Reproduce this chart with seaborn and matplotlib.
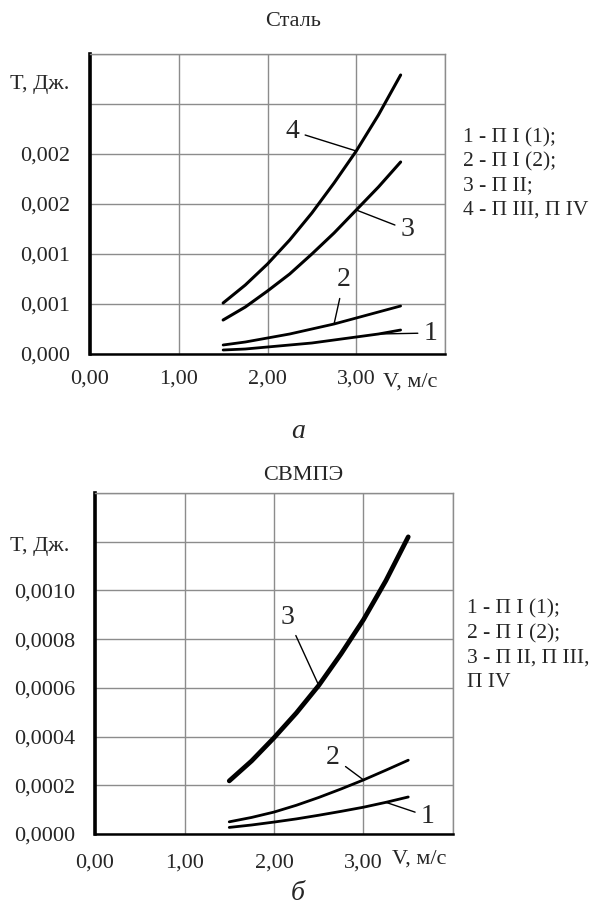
import numpy as np
import pandas as pd
import seaborn as sns
import matplotlib
matplotlib.use("Agg")
import matplotlib.pyplot as plt

# speed, m/s (every 0.25)
v = [1.5, 1.75, 2.0, 2.25, 2.5, 2.75, 3.0, 3.25, 3.5]

# Сталь
steel_1 = [0.00004, 0.00005, 0.00007, 0.00009, 0.00011, 0.00014, 0.00017, 0.00020, 0.00024]
steel_2 = [0.00009, 0.00012, 0.00016, 0.00020, 0.00025, 0.00030, 0.00036, 0.00042, 0.00048]
steel_3 = [0.00034, 0.00047, 0.00063, 0.00080, 0.00100, 0.00121, 0.00144, 0.00167, 0.00192]
steel_4 = [0.00051, 0.00069, 0.00090, 0.00114, 0.00141, 0.00171, 0.00203, 0.00239, 0.00279]

# СВМПЭ
pe_1 = [0.000027, 0.000037, 0.000049, 0.000062, 0.000077, 0.000093, 0.000110, 0.000130, 0.000152]
pe_2 = [0.000050, 0.000068, 0.000090, 0.000118, 0.000150, 0.000185, 0.000222, 0.000262, 0.000303]
pe_3 = [0.000218, 0.000300, 0.000395, 0.000497, 0.000610, 0.000740, 0.000880, 0.001040, 0.001220]

x_ticks = [0, 1, 2, 3, 4]
x_labels = ["0,00", "1,00", "2,00", "3,00", ""]

steel_yticks = [0, 0.0005, 0.001, 0.0015, 0.002, 0.0025, 0.003]
steel_ylabels = ["0,000", "0,001", "0,001", "0,002", "0,002", "", ""]
pe_yticks = [0, 0.0002, 0.0004, 0.0006, 0.0008, 0.0010, 0.0012, 0.0014]
pe_ylabels = ["0,0000", "0,0002", "0,0004", "0,0006", "0,0008", "0,0010", "", ""]

steel_legend = ["1 - П I (1);", "2 - П I (2);", "3 - П II;", "4 - П III, П IV"]
pe_legend = ["1 - П I (1);", "2 - П I (2);", "3 - П II, П III,", "П IV"]

sns.set_style("white")
plt.rcParams["font.family"] = ["Liberation Serif", "DejaVu Serif"]

W, H = 596, 917
fig = plt.figure(figsize=(W / 100, H / 100), dpi=100)


def px(x, y):
    return x / W, 1 - y / H


def setup(ax, yticks, ylabels, xpad):
    ax.set_xlim(0, 4)
    ax.set_ylim(yticks[0], yticks[-1])
    ax.set_xticks(x_ticks)
    ax.set_xticklabels(x_labels)
    ax.set_yticks(yticks)
    ax.set_yticklabels(ylabels)
    ax.tick_params(axis="both", length=0, labelsize=16)
    ax.tick_params(axis="y", pad=14)
    ax.tick_params(axis="x", pad=xpad)
    ax.grid(True, color="#8c8c8c", lw=1)
    ax.set_axisbelow(True)
    for s in ["top", "right"]:
        ax.spines[s].set_color("#8c8c8c")
        ax.spines[s].set_linewidth(1)
    ax.spines["left"].set_color("black")
    ax.spines["left"].set_linewidth(2.6)
    ax.spines["bottom"].set_color("black")
    ax.spines["bottom"].set_linewidth(1.8)
    ax.set_xlabel("")
    ax.set_ylabel("")


def label(ax, text, xytext, idx, vals):
    ax.annotate(text, xy=(v[idx], vals[idx]), xytext=xytext, fontsize=20,
                ha="center", va="center",
                arrowprops=dict(arrowstyle="-", color="black", lw=1, shrinkA=2, shrinkB=0))


# --- Сталь ---
ax1 = fig.add_axes([90 / W, 1 - 354 / H, 355 / W, 300 / H])
for vals, lw in [(steel_1, 2.0), (steel_2, 2.0), (steel_3, 2.2), (steel_4, 2.2)]:
    sns.lineplot(x=v, y=vals, ax=ax1, color="black", lw=lw)
setup(ax1, steel_yticks, steel_ylabels, 11)
label(ax1, "4", (2.28, 0.00223), 6, steel_4)
label(ax1, "3", (3.58, 0.00124), 6, steel_3)
label(ax1, "2", (2.86, 0.00074), 5, steel_2)
label(ax1, "1", (3.84, 0.00021), 7, steel_1)

# --- СВМПЭ ---
ax2 = fig.add_axes([95 / W, 1 - 834 / H, 358 / W, 341 / H])
for vals, lw in [(pe_1, 2.0), (pe_2, 2.0), (pe_3, 3.4)]:
    sns.lineplot(x=v, y=vals, ax=ax2, color="black", lw=lw)
setup(ax2, pe_yticks, pe_ylabels, 14)
label(ax2, "3", (2.15, 0.00089), 4, pe_3)
label(ax2, "2", (2.66, 0.000315), 6, pe_2)
label(ax2, "1", (3.72, 0.000072), 7, pe_1)

# titles, axis names, legends, panel letters
fig.text(*px(293, 22), "Сталь", fontsize=16, ha="center", va="center")
fig.text(*px(303, 475), "СВМПЭ", fontsize=16, ha="center", va="center")
fig.text(*px(10, 84), "T, Дж.", fontsize=16, ha="left", va="center")
fig.text(*px(10, 546), "T, Дж.", fontsize=16, ha="left", va="center")
fig.text(*px(383, 382), "V, м/с", fontsize=16, ha="left", va="center")
fig.text(*px(392, 859), "V, м/с", fontsize=16, ha="left", va="center")
for i, t in enumerate(steel_legend):
    fig.text(*px(463, 138 + i * 24), t, fontsize=15.5, ha="left", va="center")
for i, t in enumerate(pe_legend):
    fig.text(*px(467, 609 + i * 24.5), t, fontsize=15.5, ha="left", va="center")
fig.text(*px(298, 432), "а", fontsize=20, style="italic", ha="center", va="center")
fig.text(*px(298, 893), "б", fontsize=20, style="italic", ha="center", va="center")

fig.savefig("out.png", dpi=100, facecolor="white")
